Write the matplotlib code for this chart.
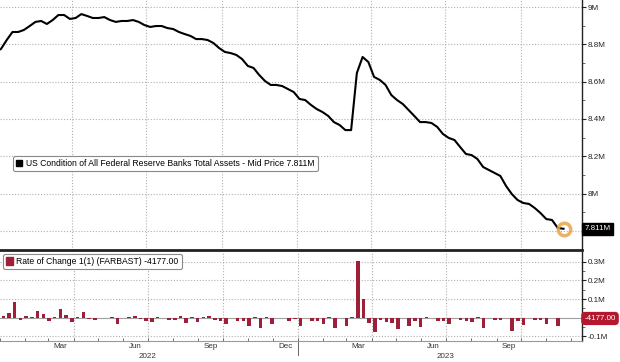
import matplotlib
matplotlib.use('Agg')
import matplotlib.pyplot as plt
import matplotlib.dates as mdates
import pandas as pd
from matplotlib.lines import Line2D
from matplotlib.patches import Patch

plt.rcParams['font.family'] = ['Liberation Sans Narrow', 'Liberation Sans', 'DejaVu Sans']

# ---------------- data ----------------
line_start = '2021-12-29'
total_assets_m = [
    8.759, 8.775, 8.823, 8.866, 8.866, 8.877, 8.898, 8.920, 8.925, 8.909,
    8.930, 8.957, 8.957, 8.936, 8.941, 8.962, 8.952, 8.941, 8.941, 8.946,
    8.930, 8.920, 8.925, 8.925, 8.930, 8.920, 8.903, 8.893, 8.898, 8.898,
    8.887, 8.882, 8.866, 8.855, 8.845, 8.828, 8.828, 8.823, 8.807, 8.780,
    8.759, 8.753, 8.743, 8.721, 8.684, 8.673, 8.635, 8.603, 8.582, 8.582,
    8.576, 8.560, 8.544, 8.507, 8.501, 8.475, 8.453, 8.437, 8.416, 8.383,
    8.367, 8.340, 8.340, 8.646, 8.732, 8.705, 8.625, 8.609, 8.582, 8.528,
    8.501, 8.480, 8.448, 8.416, 8.383, 8.383, 8.378, 8.357, 8.319, 8.298,
    8.287, 8.249, 8.212, 8.206, 8.185, 8.142, 8.126, 8.110, 8.094, 8.040,
    7.997, 7.965, 7.949, 7.944, 7.922, 7.895, 7.863, 7.858, 7.815, 7.811,
]

bar_start = '2022-01-05'
rate_of_change_m = [
    0.010, 0.024, 0.084, -0.010, 0.010, 0.005, 0.038, 0.020, -0.020, 0.005,
    0.048, 0.012, -0.025, 0.002, 0.030, -0.008, -0.012, 0.001, 0.001, 0.002,
    -0.032, 0.000, 0.003, 0.010, -0.005, -0.020, -0.021, 0.004, 0.000, -0.011,
    -0.014, 0.009, -0.030, 0.002, -0.025, 0.002, 0.009, -0.013, -0.016, -0.034,
    0.000, -0.016, -0.018, -0.045, 0.004, -0.054, 0.002, -0.036, 0.000, 0.000,
    -0.018, -0.008, -0.043, 0.000, -0.018, -0.018, -0.036, 0.002, -0.054, 0.000,
    -0.043, 0.005, 0.304, 0.098, -0.030, -0.075, -0.014, -0.021, -0.030, -0.060,
    0.000, -0.045, -0.018, -0.048, 0.005, 0.000, -0.020, -0.016, -0.036, 0.000,
    -0.0125, -0.018, -0.021, 0.003, -0.057, 0.000, -0.0125, -0.0125, 0.000, -0.071,
    -0.018, -0.039, 0.000, -0.0125, -0.0125, -0.036, 0.000, -0.045, -0.004177,
]

top_ticks = [7.8, 8.0, 8.2, 8.4, 8.6, 8.8, 9.0]
top_tick_labels = ['', '8M', '8.2M', '8.4M', '8.6M', '8.8M', '9M']
bot_ticks = [-0.1, 0.0, 0.1, 0.2, 0.3]
bot_tick_labels = ['-0.1M', '', '0.1M', '0.2M', '0.3M']

month_label_dates = ['2022-03-16', '2022-06-16', '2022-09-16', '2022-12-16',
                     '2023-03-16', '2023-06-16', '2023-09-16']
month_labels = ['Mar', 'Jun', 'Sep', 'Dec', 'Mar', 'Jun', 'Sep']
year_label_dates = ['2022-07-01', '2023-07-01']
year_labels = ['2022', '2023']
grid_dates = ['2022-04-01', '2022-07-01', '2022-10-01', '2023-01-01',
              '2023-04-01', '2023-07-01', '2023-10-01']

line_label = 'US Condition of All Federal Reserve Banks Total Assets - Mid Price 7.811M'
bar_label = 'Rate of Change 1(1) (FARBAST) -4177.00'
last_value_label = '7.811M'
last_bar_label = '-4177.00'

line_dates = pd.date_range(line_start, periods=len(total_assets_m), freq='7D')
bar_dates = pd.date_range(bar_start, periods=len(rate_of_change_m), freq='7D')

# ---------------- figure ----------------
W, H = 620, 362
fig = plt.figure(figsize=(W / 100, H / 100), dpi=100)
fig.patch.set_facecolor('white')

ax_w = 582 / W
ax1 = fig.add_axes([0, 1 - 250 / H, ax_w, 250 / H])
ax2 = fig.add_axes([0, 1 - 341 / H, ax_w, 89 / H])

jan23 = mdates.date2num(pd.Timestamp('2023-01-01'))
xl = (jan23 - 297 / 0.82, jan23 + 285 / 0.82)

grid_kw = dict(color='#b0b0b0', linestyle=(0, (1, 1.6)), linewidth=0.8, zorder=0)
tick_fs = 5.8
bar_color = '#a01f38'

for ax in (ax1, ax2):
    ax.set_xlim(xl)
    ax.set_facecolor('white')
    for s in ('left', 'top'):
        ax.spines[s].set_visible(False)
    ax.spines['right'].set_color('#222222')
    ax.spines['right'].set_linewidth(1.0)
    ax.yaxis.tick_right()
    ax.tick_params(axis='y', which='major', direction='out', length=3, width=0.8,
                   colors='#222222', labelsize=tick_fs, pad=1)
    ax.tick_params(axis='y', which='minor', direction='out', length=2, width=0.6,
                   colors='#555555')
    for d in grid_dates:
        ax.axvline(mdates.date2num(pd.Timestamp(d)), **grid_kw)

# top panel
ax1.plot(line_dates, total_assets_m, color='black', linewidth=1.5, zorder=3,
         solid_joinstyle='round')
ax1.plot(line_dates[-1], total_assets_m[-1], marker='o', markersize=9,
         markerfacecolor='none', markeredgecolor='#e6a64a', markeredgewidth=2.5,
         alpha=0.85, zorder=4)
ax1.set_ylim(9 - 243 / 186.5, 9 + 7 / 186.5)
ax1.set_yticks(top_ticks)
ax1.set_yticklabels(top_tick_labels)
ax1.set_yticks([t + 0.1 for t in top_ticks[:-1]], minor=True)
for t in top_ticks:
    ax1.axhline(t, **grid_kw)
ax1.spines['bottom'].set_color('#222222')
ax1.spines['bottom'].set_linewidth(2.0)
ax1.set_xticks([])

leg1 = ax1.legend(handles=[Line2D([], [], marker='s', color='black', linestyle='none',
                                  markersize=5)],
                  labels=[line_label], loc='upper left',
                  bbox_to_anchor=(13 / 582, (250 - 156) / 250),
                  fontsize=6.2, frameon=True, fancybox=True, handlelength=0.8,
                  handletextpad=0.4, borderpad=0.35, borderaxespad=0)
leg1.get_frame().set_edgecolor('#8a8a8a')
leg1.get_frame().set_linewidth(0.8)
leg1.get_frame().set_alpha(1)

ax1.text(1.004, total_assets_m[-1], last_value_label, transform=ax1.get_yaxis_transform(),
         ha='left', va='center', color='white', fontsize=tick_fs,
         bbox=dict(boxstyle='square,pad=0.3', fc='black', ec='black'), zorder=10,
         clip_on=False)

# bottom panel
ax2.bar(bar_dates, rate_of_change_m, width=4.3, color=bar_color, zorder=3)
ax2.axhline(0, color='#a0a0a0', linewidth=0.8, zorder=2)
ax2.set_ylim(-(341 - 317.7) / 187, (317.7 - 252) / 187)
ax2.set_yticks(bot_ticks)
ax2.set_yticklabels(bot_tick_labels)
ax2.set_yticks([t + 0.05 for t in bot_ticks[:-1]], minor=True)
for t in bot_ticks:
    if t != 0:
        ax2.axhline(t, **grid_kw)
ax2.spines['bottom'].set_color('#9a9a9a')
ax2.spines['bottom'].set_linewidth(0.8)
month_starts = pd.date_range('2022-01-01', '2023-12-01', freq='MS')
ax2.set_xticks(mdates.date2num(month_starts))
ax2.set_xticklabels([])
ax2.tick_params(axis='x', direction='in', length=2.5, width=0.6, colors='#555555')

leg2 = ax2.legend(handles=[Patch(facecolor=bar_color, edgecolor=bar_color)],
                  labels=[bar_label], loc='upper left',
                  bbox_to_anchor=(3 / 582, (341 - 254) / 89),
                  fontsize=6.2, frameon=True, fancybox=True, handlelength=0.8,
                  handleheight=0.9, handletextpad=0.4, borderpad=0.35, borderaxespad=0)
leg2.get_frame().set_edgecolor('#8a8a8a')
leg2.get_frame().set_linewidth(0.8)
leg2.get_frame().set_alpha(1)

ax2.text(1.004, rate_of_change_m[-1], last_bar_label, transform=ax2.get_yaxis_transform(),
         ha='left', va='center', color='white', fontsize=tick_fs,
         bbox=dict(boxstyle='round,pad=0.3,rounding_size=0.4', fc='#b3182f', ec='#b3182f'),
         zorder=10, clip_on=False)

trans = ax2.get_xaxis_transform()
for d, lab in zip(month_label_dates, month_labels):
    ax2.text(mdates.date2num(pd.Timestamp(d)), -6 / 89, lab, transform=trans,
             ha='center', va='center', fontsize=tick_fs, color='#333333')
for d, lab in zip(year_label_dates, year_labels):
    ax2.text(mdates.date2num(pd.Timestamp(d)), -15 / 89, lab, transform=trans,
             ha='center', va='center', fontsize=tick_fs, color='#333333')
ax2.plot([jan23, jan23], [0, -14 / 89], transform=trans, color='#666666',
         linewidth=0.7, clip_on=False)

fig.savefig('out.png', dpi=100, facecolor='white')
